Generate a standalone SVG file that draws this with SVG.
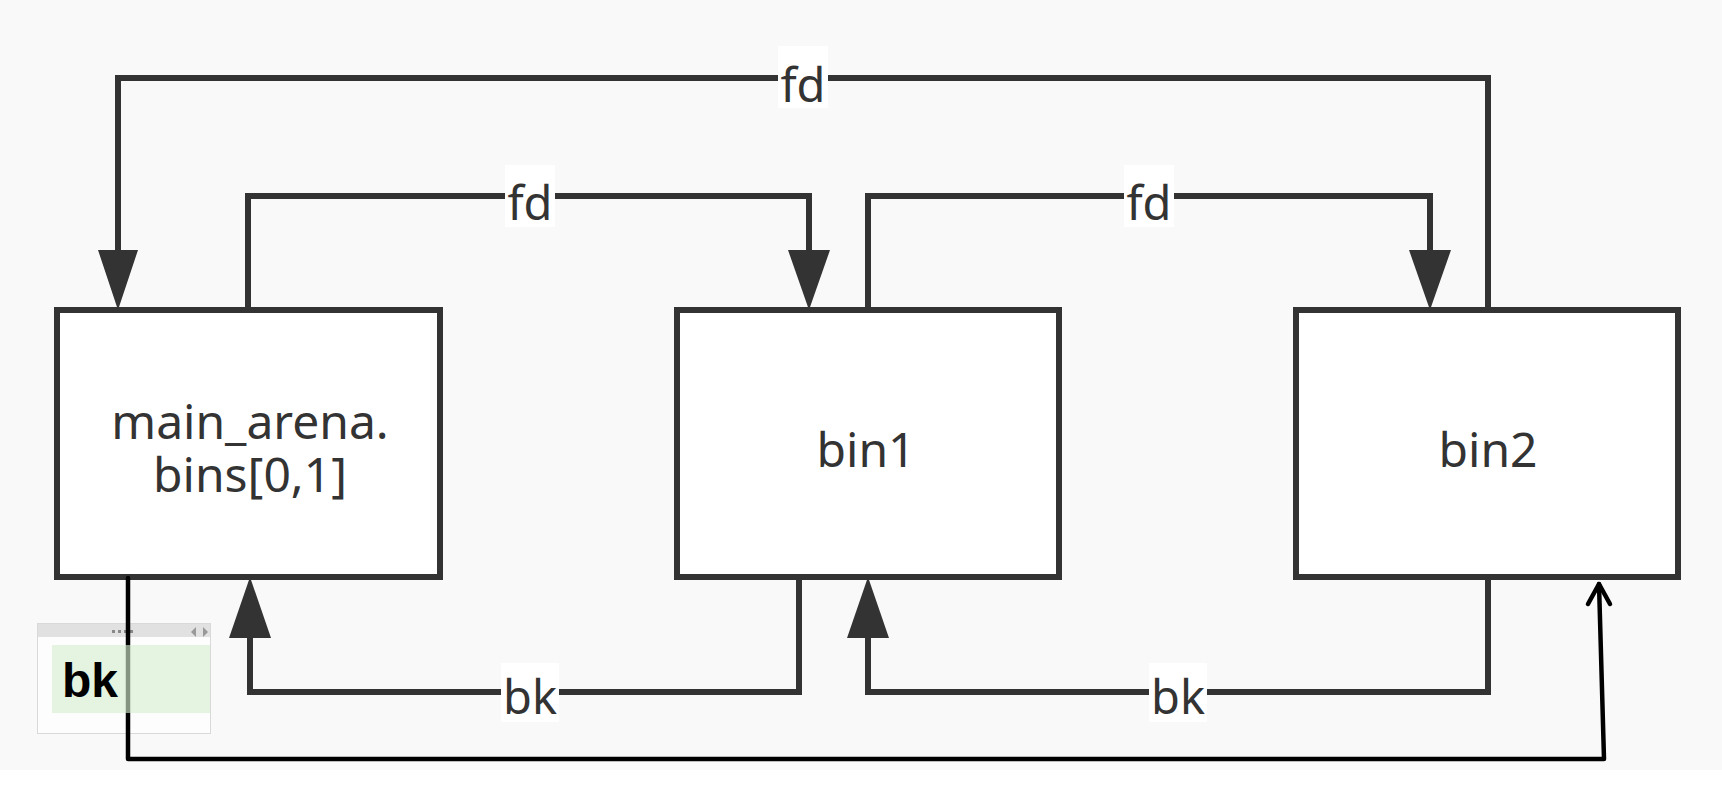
<svg xmlns="http://www.w3.org/2000/svg" width="1722" height="793" viewBox="0 0 1722 793">
<style>
.box{fill:#ffffff;stroke:#333333;stroke-width:6}
.lbl{font-family:"Noto Sans","Open Sans",sans-serif;font-size:48px;fill:#333333;text-anchor:middle}
.conn{fill:none;stroke:#333333;stroke-width:6}
.elbl{font-family:"Noto Sans","Open Sans",sans-serif;font-size:47px;fill:#333333;text-anchor:middle}
.lbg{fill:#ffffff}
.head{fill:#333333}
</style>
<rect x="0" y="0" width="1722" height="770" fill="#f9f9f9"/>
<rect x="0" y="770" width="1722" height="23" fill="#ffffff"/>

<g id="connectors">
  <!-- fd outer: bin2 -> main_arena -->
  <path class="conn" d="M1488,310 V78 H118 V255"/>
  <polygon class="head" points="98,250 138,250 118,310"/>
  <rect class="lbg" x="778" y="46" width="50" height="62"/>
  <text class="elbl" x="803" y="102">fd</text>
  <!-- fd: main_arena -> bin1 -->
  <path class="conn" d="M248,310 V196 H809 V255"/>
  <polygon class="head" points="788,250 830,250 809,310"/>
  <rect class="lbg" x="505" y="165" width="50" height="62"/>
  <text class="elbl" x="530" y="220">fd</text>
  <!-- fd: bin1 -> bin2 -->
  <path class="conn" d="M868,310 V196 H1430 V255"/>
  <polygon class="head" points="1409,250 1451,250 1430,310"/>
  <rect class="lbg" x="1124" y="165" width="50" height="62"/>
  <text class="elbl" x="1149" y="220">fd</text>
  <!-- bk: bin1 -> main_arena -->
  <path class="conn" d="M799,567 V692 H250 V633"/>
  <polygon class="head" points="229,638 271,638 250,577"/>
  <rect class="lbg" x="501" y="663" width="58" height="59"/>
  <text class="elbl" x="530" y="714">bk</text>
  <!-- bk: bin2 -> bin1 -->
  <path class="conn" d="M1488,577 V692 H868 V633"/>
  <polygon class="head" points="847,638 889,638 868,577"/>
  <rect class="lbg" x="1149" y="663" width="58" height="59"/>
  <text class="elbl" x="1178" y="714">bk</text>
</g>

<g id="main_arena">
  <rect class="box" x="57" y="310" width="383" height="267"/>
  <text class="lbl" x="250" y="439">main_arena.<tspan x="250" dy="53">bins[0,1]</tspan></text>
</g>
<g id="bin1">
  <rect class="box" x="677" y="310" width="382" height="267"/>
  <text class="lbl" x="866" y="467">bin1</text>
</g>
<g id="bin2">
  <rect class="box" x="1296" y="310" width="382" height="267"/>
  <text class="lbl" x="1488" y="467">bin2</text>
</g>

<g id="overlay-panel">
  <rect x="37.5" y="623.5" width="173" height="110" fill="#fdfdfd" stroke="#d9d9d9" stroke-width="1"/>
  <rect x="38" y="624" width="172" height="13" fill="#e1e1e1"/>
  <rect x="112" y="630" width="3" height="3" fill="#888888"/>
  <rect x="118" y="630" width="3" height="3" fill="#888888"/>
  <rect x="124" y="630" width="3" height="3" fill="#888888"/>
  <rect x="130" y="630" width="3" height="3" fill="#888888"/>
  <polygon points="196,627 196,637 191,632" fill="#999999"/>
  <polygon points="203,627 203,637 208,632" fill="#999999"/>
</g>

<g id="black-connector">
  <path d="M128,578 V759 H1604 L1599,584" fill="none" stroke="#000000" stroke-width="4.5" stroke-linejoin="round" stroke-linecap="round"/>
  <path d="M1588,604 L1599,584 L1610,604" fill="none" stroke="#000000" stroke-width="4.5" stroke-linejoin="round" stroke-linecap="round"/>
</g>

<g id="overlay-content">
  <rect x="52" y="645" width="158" height="68" fill="#d6edd0" fill-opacity="0.62"/>
  <text x="62" y="697" font-family="'Liberation Sans',Arial,sans-serif" font-weight="bold" font-size="48" fill="#000000">bk</text>
</g>
</svg>
